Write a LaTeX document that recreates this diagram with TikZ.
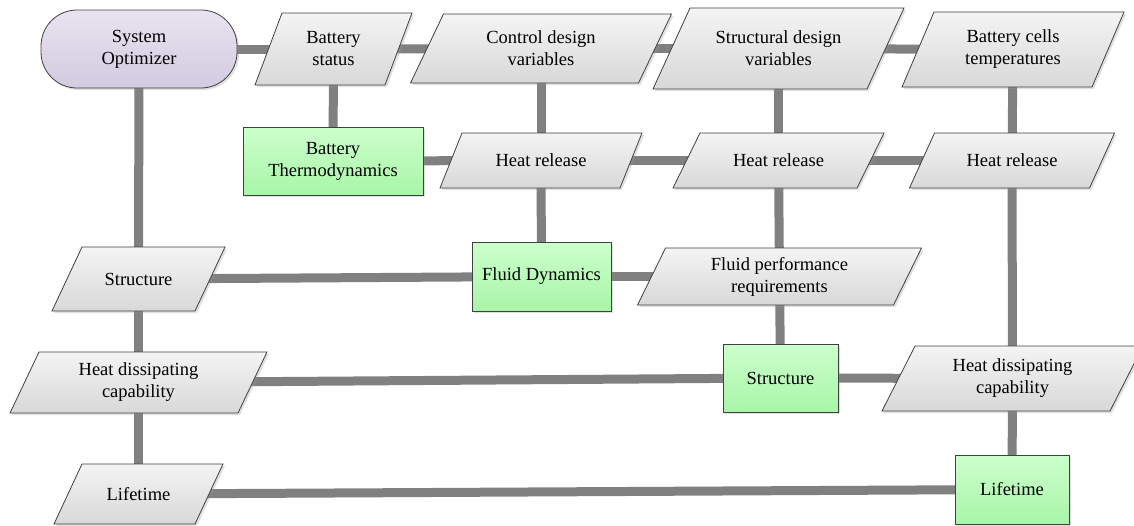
\documentclass[tikz,border=0pt]{standalone}
\usepackage{fontspec}
\setmainfont{Liberation Serif}
\usetikzlibrary{shadows}
\pgfdeclarelayer{bg}
\pgfdeclarelayer{mid}
\pgfsetlayers{bg,mid,main}
\definecolor{connGray}{HTML}{808080}
\definecolor{borderGray}{HTML}{404040}
\definecolor{paraTop}{HTML}{F4F4F4}
\definecolor{paraBot}{HTML}{D8D8D8}
\definecolor{greenTop}{HTML}{CCFFCC}
\definecolor{greenBot}{HTML}{A8F5A8}
\definecolor{lavTop}{HTML}{E8E3F0}
\definecolor{lavBot}{HTML}{D3CBE0}
\tikzset{
  conn/.style={draw=connGray, line width=9pt},
  softshadow/.style={drop shadow={shadow xshift=2pt, shadow yshift=-2pt, opacity=0.3, fill=black!40}},
  parashape/.style={draw=borderGray, line width=0.8pt, top color=paraTop, bottom color=paraBot, softshadow},
  txt/.style={align=center, inner sep=0pt, font=\fontsize{18.5}{22}\selectfont},
  greenbox/.style={txt, draw=borderGray, line width=0.8pt, top color=greenTop, bottom color=greenBot, softshadow},
  lavbox/.style={txt, draw=borderGray, line width=0.8pt, top color=lavTop, bottom color=lavBot, softshadow},
}
% #1 name, #2 cx, #3 cy, #4 width, #5 height, #6 slant, #7 text
\newcommand{\mypara}[7]{%
  \begin{pgfonlayer}{mid}
    \path[parashape] (#2-#4/2+#6/2, #3-#5/2) -- (#2+#4/2+#6/2, #3-#5/2)
      -- (#2+#4/2-#6/2, #3+#5/2) -- (#2-#4/2-#6/2, #3+#5/2) -- cycle;
  \end{pgfonlayer}
  \node[txt] (#1) at (#2,#3) {#7};
}
\begin{document}
\begin{tikzpicture}[x=1pt,y=-1pt]
\useasboundingbox (0,0) rectangle (1134,525);

% terminator
\node[lavbox, minimum width=196pt, minimum height=78pt, rounded corners=36pt] (so) at (139,49) {System\\Optimizer};

% data (parallelograms)
\mypara{bs}{333.5}{49}{130}{72}{27}{Battery\\status}
\mypara{cdv}{541}{48.5}{228}{69}{33}{Control design\\variables}
\mypara{sdv}{778.5}{48.5}{214}{81}{37}{Structural design\\variables}
\mypara{bct}{1013}{49.5}{190}{75}{32}{Battery cells\\temperatures}
\mypara{hr1}{541}{160.5}{180}{55}{22}{Heat release}
\mypara{hr2}{778.5}{160.5}{184}{55}{27}{Heat release}
\mypara{hr3}{1012}{160.5}{180}{55}{25}{Heat release}
\mypara{st1}{138.5}{279}{143}{64}{30}{Structure}
\mypara{hd1}{138.5}{382.5}{228}{61}{29}{Heat dissipating\\capability}
\mypara{lt1}{138.5}{494}{141}{60}{28}{Lifetime}
\mypara{fpr}{779.5}{276.5}{256}{57}{28}{Fluid performance\\requirements}
\mypara{hd2}{1012.5}{378.5}{228}{65}{33}{Heat dissipating\\capability}

% processes (green boxes)
\node[greenbox, minimum width=180pt, minimum height=68pt] (bt) at (333,161) {Battery\\Thermodynamics};
\node[greenbox, minimum width=139pt, minimum height=69pt] (fd) at (541.5,276.5) {Fluid Dynamics};
\node[greenbox, minimum width=115pt, minimum height=68pt] (sg) at (780.5,378) {Structure};
\node[greenbox, minimum width=114pt, minimum height=69pt] (lg) at (1012,489.5) {Lifetime};

% connectors
\begin{pgfonlayer}{bg}
  \draw[conn] (so.center) -- (bs.center);
  \draw[conn] (bs.center) -- (cdv.center);
  \draw[conn] (cdv.center) -- (sdv.center);
  \draw[conn] (sdv.center) -- (bct.center);
  \draw[conn] (bs.center) -- (bt.center);
  \draw[conn] (bt.center) -- (hr1.center);
  \draw[conn] (hr1.center) -- (hr2.center);
  \draw[conn] (hr2.center) -- (hr3.center);
  \draw[conn] (cdv.center) -- (hr1.center);
  \draw[conn] (hr1.center) -- (fd.center);
  \draw[conn] (sdv.center) -- (hr2.center);
  \draw[conn] (hr2.center) -- (fpr.center);
  \draw[conn] (fpr.center) -- (sg.center);
  \draw[conn] (bct.center) -- (hr3.center);
  \draw[conn] (hr3.center) -- (hd2.center);
  \draw[conn] (hd2.center) -- (lg.center);
  \draw[conn] (so.center) -- (st1.center);
  \draw[conn] (st1.center) -- (hd1.center);
  \draw[conn] (hd1.center) -- (lt1.center);
  \draw[conn] (st1.center) -- (fd.center);
  \draw[conn] (fd.center) -- (fpr.center);
  \draw[conn] (hd1.center) -- (sg.center);
  \draw[conn] (sg.center) -- (hd2.center);
  \draw[conn] (lt1.center) -- (lg.center);
\end{pgfonlayer}
\end{tikzpicture}
\end{document}
